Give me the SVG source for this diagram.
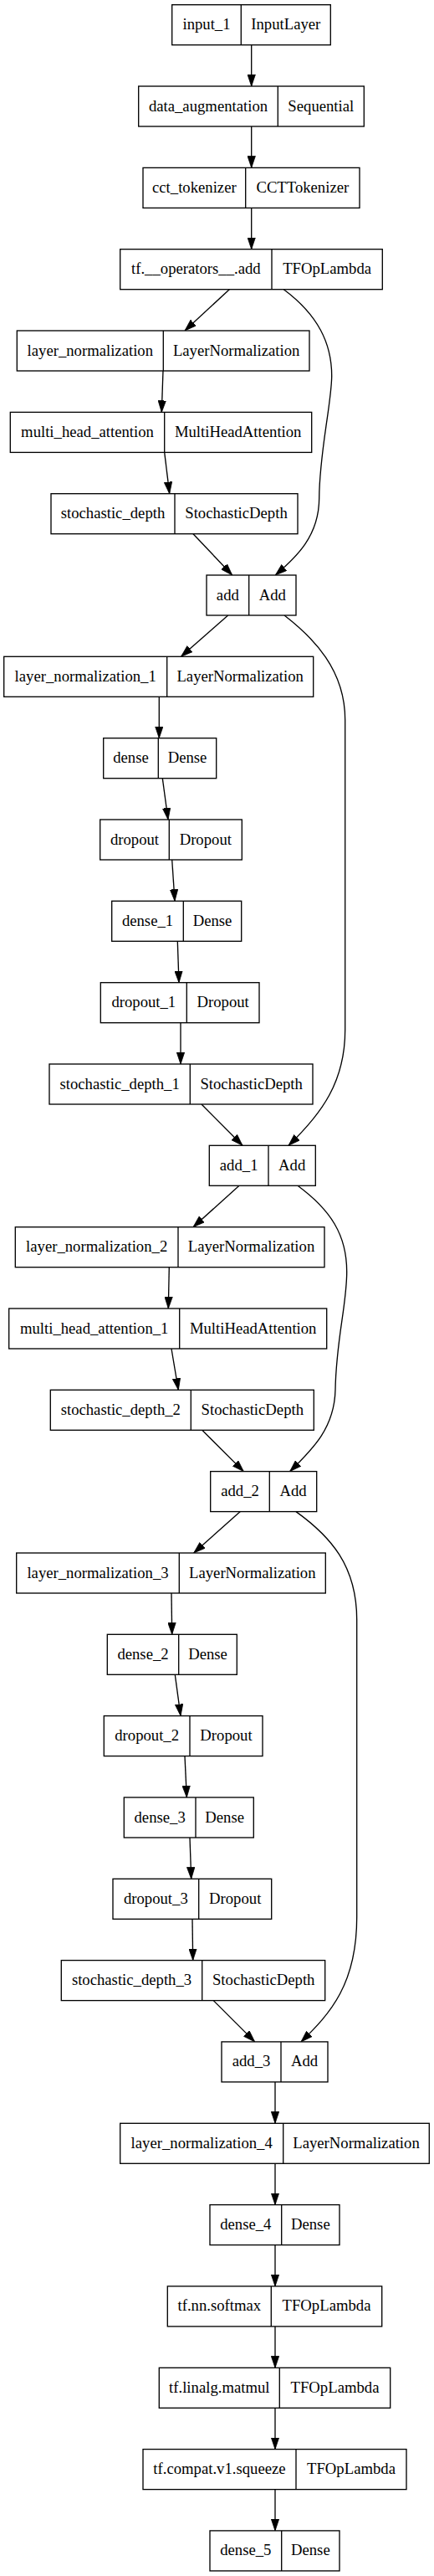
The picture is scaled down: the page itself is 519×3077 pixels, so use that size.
<svg xmlns="http://www.w3.org/2000/svg" width="519" height="3077" viewBox="0 0 519 3077">
<defs>
<style>
.box{fill:#fff;stroke:#000;stroke-width:1.33}
.div{stroke:#000;stroke-width:1.33}
text{font-family:"Liberation Serif","Times New Roman",serif;font-size:18.7px;fill:#000;text-anchor:middle}
.e{fill:none;stroke:#000;stroke-width:1.33;marker-end:url(#ah)}
</style>
<marker id="ah" viewBox="0 0 14 10" refX="14" refY="5" markerWidth="14" markerHeight="10" markerUnits="userSpaceOnUse" orient="auto">
<path d="M0,0.3 L14,5 L0,9.7 z" fill="#000" stroke="#000" stroke-width="0.8"/>
</marker>
</defs>
<rect x="0" y="0" width="519" height="3077" fill="#fff"/>
<g id="connectors">
<path class="e" d="M300.7,53.7 L300.7,103"/>
<path class="e" d="M300.7,151 L300.7,200.4"/>
<path class="e" d="M300.7,248.4 L300.7,297.7"/>
<path class="e" d="M274.3,345.7 L221,395"/>
<path class="e" d="M339.3,345.7 C380,376 397,410 396.7,450 C396,485 382,540 381.7,595 C381.5,640 355,665 329.3,687"/>
<path class="e" d="M195,443 L193.3,492.4"/>
<path class="e" d="M196.7,540.4 L202.7,589.7"/>
<path class="e" d="M231,637.7 L277.7,687"/>
<path class="e" d="M272.7,735 L216.5,784.3"/>
<path class="e" d="M340,735 C375,762 412.7,800 412.7,860 L412.7,1230 C412.7,1292 385,1330 345,1368.3"/>
<path class="e" d="M190.3,832.3 L190.3,881.7"/>
<path class="e" d="M194.3,929.7 L201,979"/>
<path class="e" d="M205.7,1027 L209,1076.3"/>
<path class="e" d="M212.3,1124.3 L214,1173.7"/>
<path class="e" d="M216,1221.7 L216,1271"/>
<path class="e" d="M241,1319 L290,1368.3"/>
<path class="e" d="M286,1416.3 L231,1465.7"/>
<path class="e" d="M356,1416.3 C395,1445 415,1475 414.7,1520 C414.5,1560 402,1600 401,1660 C400,1705 375,1730 346.7,1757.6"/>
<path class="e" d="M202.3,1513.7 L201.3,1563"/>
<path class="e" d="M205,1611 L213.3,1660.3"/>
<path class="e" d="M241.7,1708.3 L291.3,1757.6"/>
<path class="e" d="M287.3,1805.6 L231.7,1855"/>
<path class="e" d="M354,1805.6 C395,1835 426.7,1870 426.7,1935 L426.7,2290 C426.7,2370 395,2405 360,2438.9"/>
<path class="e" d="M205,1903 L205.7,1952.3"/>
<path class="e" d="M209.3,2000.3 L216,2049.6"/>
<path class="e" d="M221,2097.6 L223.3,2147"/>
<path class="e" d="M227,2195 L228.7,2244.3"/>
<path class="e" d="M230,2292.3 L230.7,2341.6"/>
<path class="e" d="M255.3,2389.6 L304.7,2438.9"/>
<path class="e" d="M329,2486.9 L329,2536.3"/>
<path class="e" d="M329,2584.3 L329,2633.6"/>
<path class="e" d="M329,2681.6 L329,2730.9"/>
<path class="e" d="M329,2778.9 L329,2828.3"/>
<path class="e" d="M329,2876.3 L329,2925.6"/>
<path class="e" d="M329,2973.6 L329,3022.9"/>
</g>
<g id="input_1"><rect class="box" x="205.7" y="5.7" width="189.6" height="48"/><line class="div" x1="288.3" y1="5.7" x2="288.3" y2="53.7"/><text x="247" y="35.2">input_1</text><text x="341.8" y="35.2">InputLayer</text></g>
<g id="data_augmentation"><rect class="box" x="165.7" y="103" width="269.6" height="48"/><line class="div" x1="332.3" y1="103" x2="332.3" y2="151"/><text x="249" y="132.5">data_augmentation</text><text x="383.8" y="132.5">Sequential</text></g>
<g id="cct_tokenizer"><rect class="box" x="171" y="200.4" width="259" height="48"/><line class="div" x1="293.7" y1="200.4" x2="293.7" y2="248.4"/><text x="232.35" y="229.9">cct_tokenizer</text><text x="361.85" y="229.9">CCTTokenizer</text></g>
<g id="tf_operators_add"><rect class="box" x="143.7" y="297.7" width="313.6" height="48"/><line class="div" x1="325" y1="297.7" x2="325" y2="345.7"/><text x="234.35" y="327.2">tf.__operators__.add</text><text x="391.15" y="327.2">TFOpLambda</text></g>
<g id="layer_normalization"><rect class="box" x="20.3" y="395" width="349.7" height="48"/><line class="div" x1="195.3" y1="395" x2="195.3" y2="443"/><text x="107.8" y="424.5">layer_normalization</text><text x="282.65" y="424.5">LayerNormalization</text></g>
<g id="multi_head_attention"><rect class="box" x="12.3" y="492.4" width="360.4" height="48"/><line class="div" x1="196.7" y1="492.4" x2="196.7" y2="540.4"/><text x="104.5" y="521.9">multi_head_attention</text><text x="284.7" y="521.9">MultiHeadAttention</text></g>
<g id="stochastic_depth"><rect class="box" x="61" y="589.7" width="295" height="48"/><line class="div" x1="209" y1="589.7" x2="209" y2="637.7"/><text x="135" y="619.2">stochastic_depth</text><text x="282.5" y="619.2">StochasticDepth</text></g>
<g id="add"><rect class="box" x="247" y="687" width="107" height="48"/><line class="div" x1="297.7" y1="687" x2="297.7" y2="735"/><text x="272.35" y="716.5">add</text><text x="325.85" y="716.5">Add</text></g>
<g id="layer_normalization_1"><rect class="box" x="4.7" y="784.3" width="370" height="48"/><line class="div" x1="199.7" y1="784.3" x2="199.7" y2="832.3"/><text x="102.2" y="813.8">layer_normalization_1</text><text x="287.2" y="813.8">LayerNormalization</text></g>
<g id="dense"><rect class="box" x="123.7" y="881.7" width="135" height="48"/><line class="div" x1="189.3" y1="881.7" x2="189.3" y2="929.7"/><text x="156.5" y="911.2">dense</text><text x="224" y="911.2">Dense</text></g>
<g id="dropout"><rect class="box" x="119.7" y="979" width="169.6" height="48"/><line class="div" x1="202.3" y1="979" x2="202.3" y2="1027"/><text x="161" y="1008.5">dropout</text><text x="245.8" y="1008.5">Dropout</text></g>
<g id="dense_1"><rect class="box" x="133.7" y="1076.3" width="155" height="48"/><line class="div" x1="219.3" y1="1076.3" x2="219.3" y2="1124.3"/><text x="176.5" y="1105.8">dense_1</text><text x="254" y="1105.8">Dense</text></g>
<g id="dropout_1"><rect class="box" x="120.3" y="1173.7" width="189.7" height="48"/><line class="div" x1="223.3" y1="1173.7" x2="223.3" y2="1221.7"/><text x="171.8" y="1203.2">dropout_1</text><text x="266.65" y="1203.2">Dropout</text></g>
<g id="stochastic_depth_1"><rect class="box" x="59" y="1271" width="315" height="48"/><line class="div" x1="227.3" y1="1271" x2="227.3" y2="1319"/><text x="143.15" y="1300.5">stochastic_depth_1</text><text x="300.65" y="1300.5">StochasticDepth</text></g>
<g id="add_1"><rect class="box" x="250.3" y="1368.3" width="127" height="48"/><line class="div" x1="321" y1="1368.3" x2="321" y2="1416.3"/><text x="285.65" y="1397.8">add_1</text><text x="349.15" y="1397.8">Add</text></g>
<g id="layer_normalization_2"><rect class="box" x="18.3" y="1465.7" width="369.7" height="48"/><line class="div" x1="213" y1="1465.7" x2="213" y2="1513.7"/><text x="115.65" y="1495.2">layer_normalization_2</text><text x="300.5" y="1495.2">LayerNormalization</text></g>
<g id="multi_head_attention_1"><rect class="box" x="10.7" y="1563" width="380" height="48"/><line class="div" x1="214.7" y1="1563" x2="214.7" y2="1611"/><text x="112.7" y="1592.5">multi_head_attention_1</text><text x="302.7" y="1592.5">MultiHeadAttention</text></g>
<g id="stochastic_depth_2"><rect class="box" x="60.3" y="1660.3" width="315" height="48"/><line class="div" x1="228.3" y1="1660.3" x2="228.3" y2="1708.3"/><text x="144.3" y="1689.8">stochastic_depth_2</text><text x="301.8" y="1689.8">StochasticDepth</text></g>
<g id="add_2"><rect class="box" x="251.7" y="1757.6" width="127" height="48"/><line class="div" x1="322.3" y1="1757.6" x2="322.3" y2="1805.6"/><text x="287" y="1787.1">add_2</text><text x="350.5" y="1787.1">Add</text></g>
<g id="layer_normalization_3"><rect class="box" x="19.7" y="1855" width="369.6" height="48"/><line class="div" x1="214.3" y1="1855" x2="214.3" y2="1903"/><text x="117" y="1884.5">layer_normalization_3</text><text x="301.8" y="1884.5">LayerNormalization</text></g>
<g id="dense_2"><rect class="box" x="128.3" y="1952.3" width="155" height="48"/><line class="div" x1="213.7" y1="1952.3" x2="213.7" y2="2000.3"/><text x="171" y="1981.8">dense_2</text><text x="248.5" y="1981.8">Dense</text></g>
<g id="dropout_2"><rect class="box" x="124.3" y="2049.6" width="189.7" height="48"/><line class="div" x1="227" y1="2049.6" x2="227" y2="2097.6"/><text x="175.65" y="2079.1">dropout_2</text><text x="270.5" y="2079.1">Dropout</text></g>
<g id="dense_3"><rect class="box" x="148.3" y="2147" width="155" height="48"/><line class="div" x1="234" y1="2147" x2="234" y2="2195"/><text x="191.15" y="2176.5">dense_3</text><text x="268.65" y="2176.5">Dense</text></g>
<g id="dropout_3"><rect class="box" x="135" y="2244.3" width="189.7" height="48"/><line class="div" x1="237.7" y1="2244.3" x2="237.7" y2="2292.3"/><text x="186.35" y="2273.8">dropout_3</text><text x="281.2" y="2273.8">Dropout</text></g>
<g id="stochastic_depth_3"><rect class="box" x="73.3" y="2341.6" width="315.4" height="48"/><line class="div" x1="241.7" y1="2341.6" x2="241.7" y2="2389.6"/><text x="157.5" y="2371.1">stochastic_depth_3</text><text x="315.2" y="2371.1">StochasticDepth</text></g>
<g id="add_3"><rect class="box" x="265" y="2438.9" width="127" height="48"/><line class="div" x1="336" y1="2438.9" x2="336" y2="2486.9"/><text x="300.5" y="2468.4">add_3</text><text x="364" y="2468.4">Add</text></g>
<g id="layer_normalization_4"><rect class="box" x="143.7" y="2536.3" width="369.6" height="48"/><line class="div" x1="338.7" y1="2536.3" x2="338.7" y2="2584.3"/><text x="241.2" y="2565.8">layer_normalization_4</text><text x="426" y="2565.8">LayerNormalization</text></g>
<g id="dense_4"><rect class="box" x="251" y="2633.6" width="155" height="48"/><line class="div" x1="336.7" y1="2633.6" x2="336.7" y2="2681.6"/><text x="293.85" y="2663.1">dense_4</text><text x="371.35" y="2663.1">Dense</text></g>
<g id="tf_nn_softmax"><rect class="box" x="200.3" y="2730.9" width="256.4" height="48"/><line class="div" x1="324.3" y1="2730.9" x2="324.3" y2="2778.9"/><text x="262.3" y="2760.4">tf.nn.softmax</text><text x="390.5" y="2760.4">TFOpLambda</text></g>
<g id="tf_linalg_matmul"><rect class="box" x="190.3" y="2828.3" width="276.4" height="48"/><line class="div" x1="334.3" y1="2828.3" x2="334.3" y2="2876.3"/><text x="262.3" y="2857.8">tf.linalg.matmul</text><text x="400.5" y="2857.8">TFOpLambda</text></g>
<g id="tf_compat_v1_squeeze"><rect class="box" x="171" y="2925.6" width="315" height="48"/><line class="div" x1="354" y1="2925.6" x2="354" y2="2973.6"/><text x="262.5" y="2955.1">tf.compat.v1.squeeze</text><text x="420" y="2955.1">TFOpLambda</text></g>
<g id="dense_5"><rect class="box" x="251" y="3022.9" width="155" height="48"/><line class="div" x1="336.7" y1="3022.9" x2="336.7" y2="3070.9"/><text x="293.85" y="3052.4">dense_5</text><text x="371.35" y="3052.4">Dense</text></g>
</svg>
